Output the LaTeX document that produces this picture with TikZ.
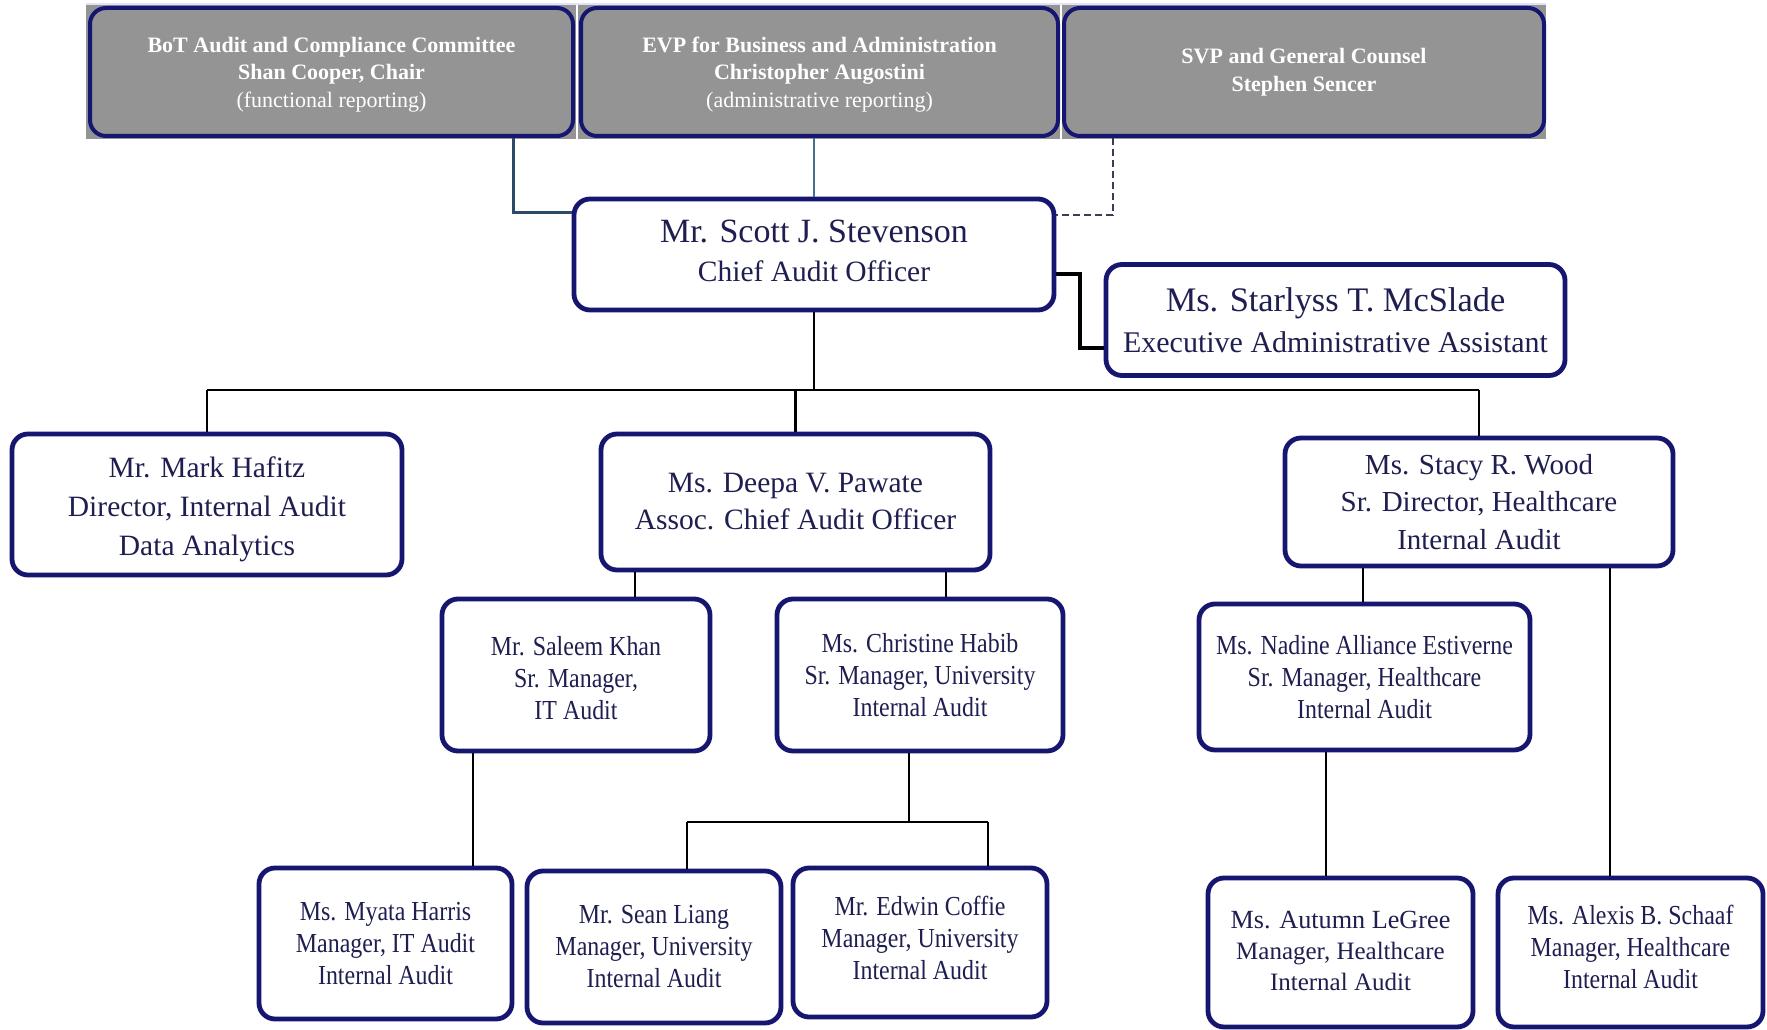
\documentclass[tikz,border=0pt]{standalone}
\usepackage{fontspec}
\setmainfont{Liberation Serif}
\newfontfamily\cond[FakeStretch=0.87]{Liberation Serif}
\definecolor{navy}{RGB}{22,22,112}
\definecolor{ink}{RGB}{30,30,80}
\definecolor{boxgray}{RGB}{148,148,148}
\definecolor{slate}{RGB}{45,75,105}
\definecolor{steel}{RGB}{70,110,145}
\definecolor{dashc}{RGB}{60,60,85}
\newcommand{\upto}[1]{\rule{0pt}{#1}}
\newcommand{\downto}[1]{\rule[-#1]{0pt}{0pt}}
\tikzset{
  pbox/.style={draw=navy, line width=4.8pt, rounded corners=16pt, fill=white, align=center, inner sep=0pt, text=ink},
  gbox/.style={draw=navy, line width=4pt, rounded corners=16pt, fill=boxgray, align=center, inner sep=0pt, text=white, font=\fontsize{22}{27.5}\selectfont},
  big/.style={font=\fontsize{29.5}{39}\selectfont},
  small/.style={font=\cond\fontsize{27.5}{32}\selectfont},
  link/.style={line width=2.5pt, black},
}
\begin{document}
\begin{tikzpicture}[x=1pt,y=-1pt]
\useasboundingbox (0,0) rectangle (1767,1030);
\fill[white] (0,0) rectangle (1767,1030);
% gray backgrounds of the top row
\fill[boxgray] (86,4) rectangle (576,139);
\fill[boxgray] (578,4) rectangle (1060,139);
\fill[boxgray] (1062,4) rectangle (1546,139);
\draw[blue!12, line width=1.5pt] (86,4) -- (1546,4);

% top row
\node[gbox, minimum width=483pt, minimum height=128pt] (bot) at (331.5,72)
  {\upto{20pt}\textbf{BoT Audit and Compliance Committee}\\\textbf{Shan Cooper, Chair}\\(functional reporting)};
\node[gbox, minimum width=477pt, minimum height=128pt] (evp) at (819.5,72)
  {\upto{20pt}\textbf{EVP for Business and Administration}\\\textbf{Christopher Augostini}\\(administrative reporting)};
\node[gbox, minimum width=480pt, minimum height=128pt] (svp) at (1304,72)
  {\textbf{SVP and General Counsel}\\\textbf{Stephen Sencer}};

% chief audit officer and assistant
\node[pbox, font=\fontsize{29.5}{39}\selectfont, minimum width=480pt, minimum height=111pt] (scott) at (814,254.5)
  {{\fontsize{34}{39}\selectfont Mr. Scott J. Stevenson}\\Chief Audit Officer\downto{8pt}};
\node[pbox, font=\fontsize{30}{41}\selectfont, minimum width=459pt, minimum height=111pt] (mcslade) at (1335.5,320)
  {{\fontsize{34.4}{41}\selectfont Ms. Starlyss T. McSlade}\\Executive Administrative Assistant};

% second level
\node[pbox, big, minimum width=390pt, minimum height=141pt] (hafitz) at (207,504.5)
  {\upto{30pt}Mr. Mark Hafitz\\Director, Internal Audit\\Data Analytics};
\node[pbox, font=\fontsize{29.5}{37}\selectfont, minimum width=389pt, minimum height=136pt] (pawate) at (795.5,502)
  {Ms. Deepa V. Pawate\\Assoc. Chief Audit Officer};
\node[pbox, font=\fontsize{29}{37.5}\selectfont, minimum width=388pt, minimum height=128pt] (wood) at (1479,502)
  {Ms. Stacy R. Wood\\Sr. Director, Healthcare\\Internal Audit};

% third level
\node[pbox, small, minimum width=268pt, minimum height=152pt] (khan) at (576,675)
  {\upto{26pt}Mr. Saleem Khan\\Sr. Manager,\\IT Audit};
\node[pbox, small, minimum width=286pt, minimum height=152pt] (habib) at (920,675)
  {Ms. Christine Habib\\Sr. Manager, University\\Internal Audit};
\node[pbox, small, minimum width=331pt, minimum height=146pt] (estiverne) at (1364.5,677)
  {Ms. Nadine Alliance Estiverne\\Sr. Manager, Healthcare\\Internal Audit};

% bottom level
\node[pbox, small, minimum width=253pt, minimum height=151pt] (harris) at (385.5,943.5)
  {Ms. Myata Harris\\Manager, IT Audit\\Internal Audit};
\node[pbox, small, minimum width=254pt, minimum height=152pt] (liang) at (654,947)
  {Mr. Sean Liang\\Manager, University\\Internal Audit};
\node[pbox, small, minimum width=254pt, minimum height=149pt] (coffie) at (920,942.5)
  {Mr. Edwin Coffie\\Manager, University\\Internal Audit\downto{9pt}};
\node[pbox, font=\fontsize{25}{31}\selectfont, minimum width=265pt, minimum height=149pt] (legree) at (1340.5,952.5)
  {{\fontsize{26.2}{31}\selectfont Ms. Autumn LeGree}\\Manager, Healthcare\\Internal Audit\downto{4pt}};
\node[pbox, small, minimum width=265pt, minimum height=149pt] (schaaf) at (1630.5,952.5)
  {Ms. Alexis B. Schaaf\\Manager, Healthcare\\Internal Audit\downto{11pt}};

% junction points
\coordinate (jbot) at (513,212);
\coordinate (jsvp) at (1113,215);
\coordinate (ja) at (1080,274);
\coordinate (jb) at (1080,348);
\coordinate (bus) at (814,390);
\coordinate (xkhan) at (635,0);
\coordinate (xhabib) at (946,0);
\coordinate (xest) at (1363,0);
\coordinate (xschaaf) at (1610,0);
\coordinate (xharris) at (473,0);
\coordinate (xlegree) at (1326,0);
\coordinate (hb) at (909,822);
\coordinate (xliang) at (687,0);
\coordinate (xcoffie) at (988,0);

% connectors of the top row
\draw[slate, line width=3pt] (bot.south -| jbot) -- (jbot) -- (scott.west |- jbot);
\draw[steel, line width=2.2pt] (evp.south -| scott.north) -- (scott.north);
\draw[dashc, line width=2pt, dash pattern=on 7pt off 4pt] (svp.south -| jsvp) -- (jsvp) -- (scott.east |- jsvp);
\draw[black, line width=3.5pt] (scott.east |- ja) -- (ja) -- (jb) -- (mcslade.west |- jb);

% main bus
\draw[link] (scott.south) -- (bus);
\draw[link] (hafitz.north |- bus) -- (wood.north |- bus);
\draw[link] (hafitz.north |- bus) -- (hafitz.north);
\draw[link] (pawate.north |- bus) -- (pawate.north);
\draw[link] (wood.north |- bus) -- (wood.north);

% lower connectors
\draw[link] (pawate.south -| xkhan) -- (khan.north -| xkhan);
\draw[link] (pawate.south -| xhabib) -- (habib.north -| xhabib);
\draw[link] (wood.south -| xest) -- (estiverne.north -| xest);
\draw[link] (wood.south -| xschaaf) -- (schaaf.north -| xschaaf);
\draw[link] (khan.south -| xharris) -- (harris.north -| xharris);
\draw[link] (estiverne.south -| xlegree) -- (legree.north -| xlegree);
\draw[link] (habib.south -| hb) -- (hb);
\draw[link] (hb -| xliang) -- (hb -| xcoffie);
\draw[link] (hb -| xliang) -- (liang.north -| xliang);
\draw[link] (hb -| xcoffie) -- (coffie.north -| xcoffie);
\end{tikzpicture}
\end{document}
